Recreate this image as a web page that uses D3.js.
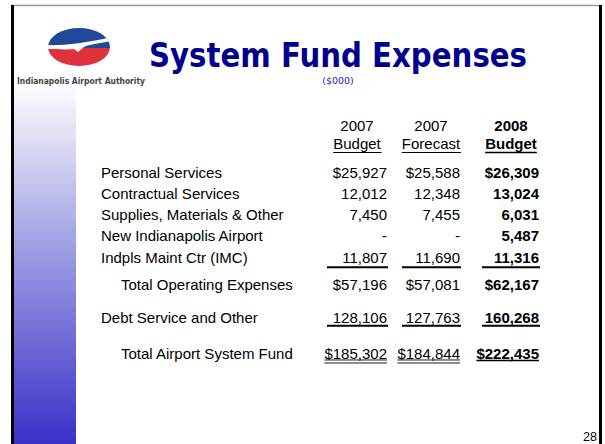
<!DOCTYPE html>
<html>
<head>
<meta charset="utf-8">
<script src="https://cdn.jsdelivr.net/npm/d3@7"></script>
<style>
  body{margin:0;background:#fff;}
  svg{display:block;}
</style>
</head>
<body>
<script>
// table data, values in $000
var rowLabels = ['Personal Services','Contractual Services','Supplies, Materials & Other',
  'New Indianapolis Airport','Indpls Maint Ctr (IMC)','Total Operating Expenses',
  'Debt Service and Other','Total Airport System Fund'];
var budget2007 = [25927,12012,7450,0,11807,57196,128106,185302];
var forecast2007 = [25588,12348,7455,0,11690,57081,127763,184844];
var budget2008 = [26309,13024,6031,5487,11316,62167,160268,222435];
var colYears = ['2007','2007','2008'];
var colNames = ['Budget','Forecast','Budget'];

// layout stuff (not data)
var slots = [0,1,2,3,4,5.27,6.82,8.52];
var indented = [5,7];
var dollarRows = [0,5,7];
var underlineAfter = [4,6];

var W = 605, H = 444;
var svg = d3.select('body').append('svg').attr('width',W).attr('height',H);
var defs = svg.append('defs');

var grad = defs.append('linearGradient').attr('id','sideGrad')
  .attr('x1',0).attr('y1',0).attr('x2',0).attr('y2',1);
grad.append('stop').attr('offset','0%').attr('stop-color','#fbfbfe');
grad.append('stop').attr('offset','40%').attr('stop-color','#a9a8e6');
grad.append('stop').attr('offset','100%').attr('stop-color','#3a30c8');

// slide frame
svg.append('rect').attr('x',14).attr('y',88).attr('width',62).attr('height',H-88).attr('fill','url(#sideGrad)');
svg.append('line').attr('x1',11).attr('x2',602).attr('y1',5.5).attr('y2',5.5).attr('stroke','#9a9a9a').attr('stroke-width',1.5);
svg.append('rect').attr('x',11).attr('y',5).attr('width',3).attr('height',H-5).attr('fill','#000');
svg.append('rect').attr('x',599).attr('y',5).attr('width',3).attr('height',H-5).attr('fill','#000');

// logo
defs.append('clipPath').attr('id','logoClip')
  .append('ellipse').attr('cx',79).attr('cy',47).attr('rx',31).attr('ry',19);
var logo = svg.append('g').attr('clip-path','url(#logoClip)');
logo.append('rect').attr('x',48).attr('y',28).attr('width',62).attr('height',20).attr('fill','#1f4a9a');
logo.append('rect').attr('x',48).attr('y',48).attr('width',62).attr('height',20).attr('fill','#e0323c');
logo.append('path')
  .attr('d','M46,45 C62,46 86,43 112,37 L112,41 C96,44 88,45 84,47 L78,52 L74,49 C66,50 56,49 46,49 Z')
  .attr('fill','#fff');
svg.append('text').attr('x',17).attr('y',84)
  .attr('font-family','DejaVu Sans').attr('font-weight','bold').attr('font-size',8)
  .attr('textLength',128).attr('lengthAdjust','spacingAndGlyphs')
  .attr('fill','#444').text('Indianapolis Airport Authority');

// title
svg.append('text').attr('x',149).attr('y',67)
  .attr('font-family','DejaVu Sans').attr('font-weight','bold').attr('font-size',33)
  .attr('textLength',378).attr('lengthAdjust','spacingAndGlyphs')
  .attr('fill','#00008f').text('System Fund Expenses');
svg.append('text').attr('x',338).attr('y',84).attr('text-anchor','middle')
  .attr('font-family','DejaVu Sans').attr('font-size',9.5)
  .attr('fill','#1a1ab0').text('($000)');

// scales
var y = d3.scaleLinear().domain([0,1]).range([172,193.3]);
var colRight = d3.scaleOrdinal().domain([0,1,2]).range([387,460,539]);
var colLeft = d3.scaleOrdinal().domain([0,1,2]).range([327,402,482]);
var colMid = d3.scaleOrdinal().domain([0,1,2]).range([357,431,511]);

var fmt = d3.format(',');
function cell(v,i){
  if (v===0) return '-';
  return (dollarRows.indexOf(i)>=0?'$':'')+fmt(v);
}

var tbl = svg.append('g').attr('font-family','Liberation Sans, Arial, sans-serif').attr('font-size',15).attr('fill','#000');

// headers
var hdr = tbl.selectAll('.hdr').data(colNames).enter().append('g').attr('class','hdr')
  .attr('font-weight',function(d,i){return i===2?'bold':'normal'});
hdr.append('text').attr('x',function(d,i){return colMid(i)}).attr('y',131)
  .attr('text-anchor','middle').text(function(d,i){return colYears[i]});
hdr.append('text').attr('class','hname').attr('x',function(d,i){return colMid(i)}).attr('y',149)
  .attr('text-anchor','middle').text(function(d){return d});
hdr.each(function(d,i){
  var b = d3.select(this).select('.hname').node().getBBox();
  d3.select(this).append('line').attr('x1',b.x).attr('x2',b.x+b.width)
    .attr('y1',152.5).attr('y2',152.5).attr('stroke','#000').attr('stroke-width',i===2?1.6:1.1);
});

// row labels
tbl.selectAll('.lab').data(rowLabels).enter().append('text').attr('class','lab')
  .attr('x',function(d,i){return indented.indexOf(i)>=0?121:101})
  .attr('y',function(d,i){return y(slots[i])+5.5})
  .text(function(d){return d});

// value columns
var cols = [budget2007,forecast2007,budget2008];
cols.forEach(function(vals,c){
  var g = tbl.append('g').attr('font-weight',c===2?'bold':'normal');
  g.selectAll('text').data(vals).enter().append('text')
    .attr('x',colRight(c)).attr('text-anchor','end')
    .attr('y',function(d,i){return y(slots[i])+5.5})
    .text(function(d,i){return cell(d,i)});
  // subtotal rules
  underlineAfter.forEach(function(r){
    var ly = y(slots[r]) + (r===4?10:8.5);
    g.append('line').attr('x1',colLeft(c)).attr('x2',colRight(c)+1)
      .attr('y1',ly).attr('y2',ly).attr('stroke','#000').attr('stroke-width',2);
  });
  // grand total underline
  var last = g.selectAll('text').filter(function(d,i){return i===vals.length-1}).node().getBBox();
  var ty = y(slots[7]) + 6.5;
  if (c===2){
    g.append('line').attr('x1',last.x).attr('x2',last.x+last.width)
      .attr('y1',ty+0.5).attr('y2',ty+0.5).attr('stroke','#000').attr('stroke-width',1.6);
  } else {
    [ty, ty+3].forEach(function(yy){
      g.append('line').attr('x1',last.x).attr('x2',last.x+last.width)
        .attr('y1',yy).attr('y2',yy).attr('stroke','#000').attr('stroke-width',0.9);
    });
  }
});

// page number
svg.append('text').attr('x',597).attr('y',441).attr('text-anchor','end')
  .attr('font-family','Liberation Sans, Arial, sans-serif').attr('font-size',12.5)
  .attr('fill','#000').text('28');
</script>
</body>
</html>
